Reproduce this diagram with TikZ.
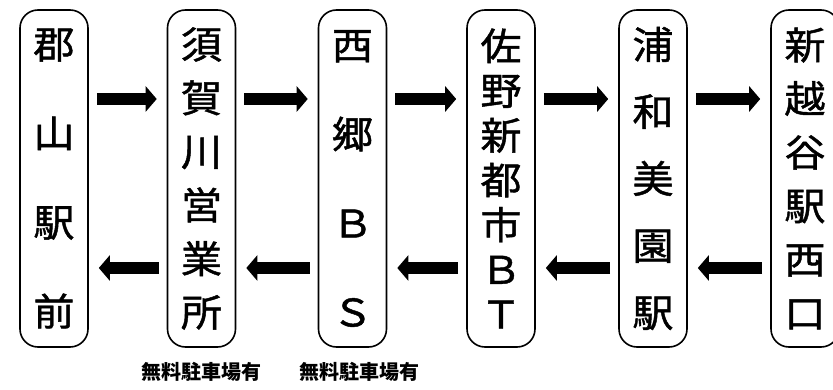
\documentclass[tikz,border=0pt]{standalone}
\usepackage{fontspec}
\newfontfamily\jp[FakeStretch=1.08, FakeBold=1.2]{Noto Sans CJK JP}
\newfontfamily\jpnote{Noto Sans CJK JP}
\usetikzlibrary{arrows.meta}

\begin{document}
\begin{tikzpicture}[x=1pt, y=-1pt,
  stop/.style={draw, line width=1.6pt, rounded corners=18pt,
    minimum width=68pt, minimum height=337pt, inner sep=0pt, align=center},
  fwd/.style={line width=12pt, -{Triangle[length=11pt, width=25pt]},
    shorten <=8pt, shorten >=10pt},
  note/.style={font=\jpnote\bfseries\fontsize{20}{22}\selectfont}]
  \useasboundingbox (0,0) rectangle (833,390);
  \coordinate (up) at (0,99);
  \coordinate (dn) at (0,268);
  % stops
  \node[stop, font=\jp\fontsize{38}{89}\selectfont] (kr) at (54,178.5) {郡\\山\\駅\\前};
  \node[stop, font=\jp\fontsize{38}{53.6}\selectfont] (sg) at (201.5,178.5) {須\\賀\\川\\営\\業\\所};
  \node[stop, font=\jp\fontsize{38}{89}\selectfont] (ng) at (352.5,178.5) {西\\郷\\Ｂ\\Ｓ};
  \node[stop, font=\jp\fontsize{38}{44.7}\selectfont] (sn) at (501,178.5) {佐\\野\\新\\都\\市\\Ｂ\\Ｔ};
  \node[stop, font=\jp\fontsize{38}{67}\selectfont] (um) at (653,178.5) {浦\\和\\美\\園\\駅};
  \node[stop, font=\jp\fontsize{38}{53.6}\selectfont] (sk) at (805,178.5) {新\\越\\谷\\駅\\西\\口};
  % outbound
  \draw[fwd] (kr.east |- up) -- (sg.west |- up);
  \draw[fwd] (sg.east |- up) -- (ng.west |- up);
  \draw[fwd] (ng.east |- up) -- (sn.west |- up);
  \draw[fwd] (sn.east |- up) -- (um.west |- up);
  \draw[fwd] (um.east |- up) -- (sk.west |- up);
  % inbound
  \draw[fwd] (sg.west |- dn) -- (kr.east |- dn);
  \draw[fwd] (ng.west |- dn) -- (sg.east |- dn);
  \draw[fwd] (sn.west |- dn) -- (ng.east |- dn);
  \draw[fwd] (um.west |- dn) -- (sn.east |- dn);
  \draw[fwd] (sk.west |- dn) -- (um.east |- dn);
  % parking
  \node[note] (pk1) at (201.5,372) {無料駐車場有};
  \node[note] (pk2) at (359,372) {無料駐車場有};
\end{tikzpicture}
\end{document}
